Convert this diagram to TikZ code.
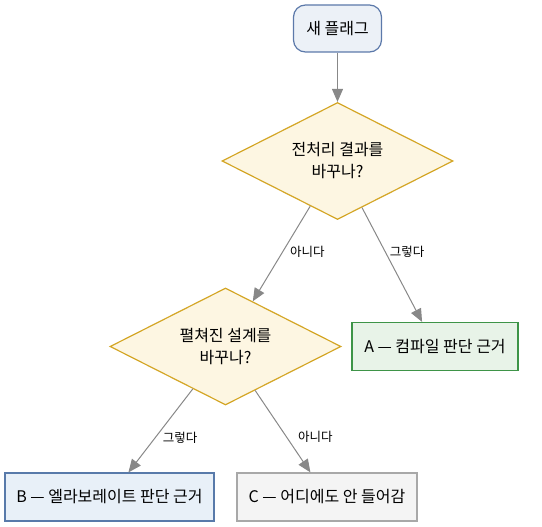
\documentclass[tikz,border=0pt]{standalone}
\usepackage{fontspec}
\setmainfont{Noto Sans CJK KR}
\usetikzlibrary{shapes.geometric,arrows.meta}
\definecolor{startfill}{RGB}{236,241,247}
\definecolor{startdraw}{RGB}{92,121,170}
\definecolor{decfill}{RGB}{253,246,226}
\definecolor{decdraw}{RGB}{212,166,38}
\definecolor{afill}{RGB}{232,243,232}
\definecolor{adraw}{RGB}{62,148,72}
\definecolor{bfill}{RGB}{232,240,248}
\definecolor{bdraw}{RGB}{88,122,170}
\definecolor{cfill}{RGB}{244,244,244}
\definecolor{cdraw}{RGB}{168,168,168}
\definecolor{edgecol}{RGB}{136,136,136}
\tikzset{
  startbox/.style={draw=startdraw, fill=startfill, line width=1.2pt, rounded corners=12pt,
    minimum width=88pt, minimum height=47pt, inner sep=0pt, font=\fontsize{16}{19}\selectfont},
  decbox/.style={diamond, aspect=2, draw=decdraw, fill=decfill, line width=1.2pt,
    minimum width=231pt, minimum height=117pt, inner sep=0pt, align=center,
    font=\fontsize{16}{22}\selectfont},
  outbox/.style={rectangle, line width=1.2pt, minimum height=48pt, inner sep=0pt,
    font=\fontsize{16}{19}\selectfont},
  flow/.style={draw=edgecol, line width=1pt, -{Triangle[length=13pt,width=11pt]}},
  lbl/.style={font=\fontsize{12.5}{14}\selectfont, inner sep=0pt, anchor=west, text=black}
}
\begin{document}
\begin{tikzpicture}[x=1pt,y=1pt]
\useasboundingbox (0,0) rectangle (542,-527);
\node[startbox] (start) at (337.5,-28.5) {새 플래그};
\node[decbox] (d1) at (337.5,-161) {전처리 결과를\\바꾸나?};
\node[decbox] (d2) at (225.5,-346.5) {펼쳐진 설계를\\바꾸나?};
\node[outbox, draw=adraw, fill=afill, minimum width=166pt] (a) at (435,-346.5) {A — 컴파일 판단 근거};
\node[outbox, draw=bdraw, fill=bfill, minimum width=209pt] (b) at (109.5,-497) {B — 엘라보레이트 판단 근거};
\node[outbox, draw=cdraw, fill=cfill, minimum width=180pt] (c) at (327,-497) {C — 어디에도 안 들어감};
\draw[flow] (start) -- (d1);
\draw[flow] (d1) -- node[lbl, pos=0.48, xshift=7pt] {아니다} (d2);
\draw[flow] (d1) -- node[lbl, pos=0.39, xshift=4pt] {그렇다} (a);
\draw[flow] (d2) -- node[lbl, pos=0.58, xshift=7pt] {그렇다} (b);
\draw[flow] (d2) -- node[lbl, pos=0.57, xshift=11pt] {아니다} (c);
\end{tikzpicture}
\end{document}
